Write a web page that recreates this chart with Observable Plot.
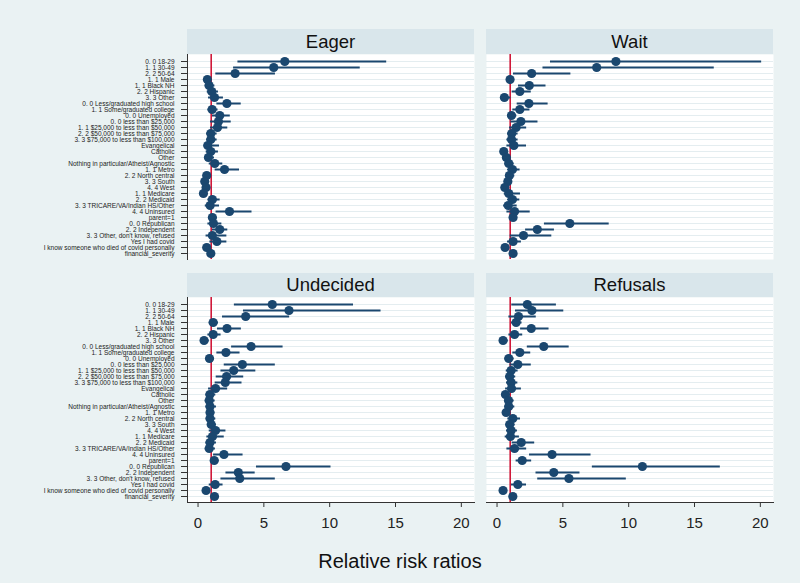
<!DOCTYPE html>
<html><head><meta charset="utf-8">
<script src="https://cdn.jsdelivr.net/npm/d3@7"></script>
<script src="https://cdn.jsdelivr.net/npm/@observablehq/plot@0.6"></script>
<style>
html,body{margin:0;padding:0;background:#EAF2F3;}
#wrap{position:relative;width:800px;height:583px;background:#EAF2F3;font-family:"Liberation Sans",Arial,sans-serif;overflow:hidden}
.hdr{position:absolute;background:#D9E6EB;color:#111;font-size:18.5px;display:flex;align-items:center;justify-content:center}
.pan{position:absolute;overflow:visible}
#xt{position:absolute;left:0;width:800px;text-align:center;font-size:20px;line-height:24px;top:549px;color:#111}
</style></head><body><div id="wrap"></div>
<script>
const labels = [
  "0. 0 18-29","1. 1 30-49","2. 2 50-64","1. 1 Male","1. 1 Black NH","2. 2 Hispanic","3. 3 Other",
  "0. 0 Less/graduated high school","1. 1 Some/graduated college","0. 0 Unemployed",
  "0. 0 less than $25,000","1. 1 $25,000 to less than $50,000","2. 2 $50,000 to less than $75,000",
  "3. 3 $75,000 to less than $100,000","Evangelical","Catholic","Other",
  "Nothing in particular/Atheist/Agnostic","1. 1 Metro","2. 2 North central","3. 3 South","4. 4 West",
  "1. 1 Medicare","2. 2 Medicaid","3. 3 TRICARE/VA/Indian HS/Other","4. 4 Uninsured","parent=1",
  "0. 0 Republican","2. 2 Independent","3. 3 Other, don't know, refused","Yes I had covid",
  "I know someone who died of covid personally","financial_severity"
];
const panelTitles = ["Eager","Wait","Undecided","Refusals"];

const eagerRRR = [6.59,5.75,2.82,0.71,0.84,1.04,1.25,2.19,1.07,1.65,1.55,1.48,0.97,0.97,0.74,0.97,0.79,1.27,2.01,0.66,0.51,0.61,0.41,1.09,0.92,2.39,1.09,1.17,1.65,1.09,1.43,0.66,0.97];
const eagerLo  = [3.03,2.70,1.35,0.52,0.55,0.70,0.80,1.43,0.75,1.10,0.95,0.95,0.65,0.65,0.46,0.62,0.50,0.85,1.30,0.45,0.35,0.40,0.25,0.75,0.55,1.37,0.80,0.75,1.10,0.61,0.90,0.45,0.88];
const eagerHi  = [14.33,12.32,5.88,0.97,1.28,1.55,1.93,3.28,1.52,2.45,2.52,2.26,1.45,1.45,1.63,1.55,1.25,1.88,3.15,0.98,0.75,0.92,0.68,1.68,1.63,4.10,1.45,1.81,2.26,2.19,2.19,0.95,1.07];

const waitRRR = [9.03,7.57,2.63,0.99,2.45,1.73,0.56,2.42,1.73,1.10,1.81,1.45,1.12,1.10,1.28,0.51,0.71,0.89,1.17,0.94,0.82,0.59,0.89,1.17,0.85,1.33,1.22,5.53,3.06,2.01,1.22,0.61,1.22];
const waitLo  = [4.06,3.49,1.25,0.80,1.63,1.15,0.30,1.53,1.20,0.80,1.05,0.95,0.80,0.75,0.75,0.32,0.48,0.60,0.80,0.65,0.58,0.38,0.55,0.80,0.50,0.75,0.95,3.60,2.17,1.00,0.80,0.40,1.10];
const waitHi  = [20.1,16.5,5.61,1.22,3.72,2.60,1.05,3.88,2.50,1.50,3.11,2.25,1.60,1.60,2.24,0.80,1.05,1.30,1.75,1.35,1.15,0.90,1.78,1.73,1.53,2.52,1.55,8.52,4.36,4.16,1.85,0.92,1.35];

const undecRRR = [5.64,6.91,3.62,1.15,2.20,1.15,0.46,4.03,2.12,0.87,3.37,2.71,2.17,2.07,1.33,0.90,0.85,0.91,0.91,0.91,1.00,1.33,1.10,0.91,0.85,1.97,1.23,6.68,3.06,3.17,1.30,0.61,1.25];
const undecLo  = [2.76,3.45,1.86,0.85,1.48,0.75,0.25,2.55,1.43,0.60,1.99,1.74,1.38,1.30,0.80,0.60,0.55,0.60,0.65,0.62,0.72,0.85,0.67,0.60,0.55,1.18,0.95,4.44,2.12,1.74,0.85,0.40,1.12];
const undecHi  = [11.81,13.9,6.96,1.55,3.29,1.75,0.85,6.46,3.19,1.25,5.87,4.39,3.47,3.34,2.25,1.35,1.30,1.40,1.28,1.35,1.40,2.12,1.99,1.40,1.32,3.42,1.60,10.1,4.34,5.87,1.90,0.93,1.38];

const refusRRR = [2.30,2.65,1.63,1.45,2.60,1.33,0.46,3.55,1.73,0.89,1.58,1.07,0.96,1.07,1.10,0.64,0.87,0.89,0.69,1.20,0.96,1.07,1.02,1.84,1.33,4.18,1.91,11.04,4.31,5.46,1.58,0.46,1.20];
const refusLo  = [1.12,1.40,0.90,1.10,1.79,0.90,0.25,2.30,1.20,0.60,0.98,0.70,0.65,0.72,0.65,0.40,0.58,0.58,0.48,0.82,0.68,0.72,0.62,1.15,0.75,2.47,1.45,7.24,2.96,3.09,1.10,0.28,1.08];
const refusHi  = [4.51,5.07,2.98,1.90,3.95,1.95,0.85,5.48,2.56,1.30,2.60,1.60,1.42,1.58,1.85,1.00,1.30,1.35,1.00,1.78,1.38,1.55,1.70,2.86,2.25,7.14,2.63,16.96,6.30,9.82,2.24,0.78,1.33];

const xTicks = [0,5,10,15,20];

const series = [
  {rrr:eagerRRR, lo:eagerLo, hi:eagerHi},
  {rrr:waitRRR, lo:waitLo, hi:waitHi},
  {rrr:undecRRR, lo:undecLo, hi:undecHi},
  {rrr:refusRRR, lo:refusLo, hi:refusHi}
];

const wrap = document.getElementById("wrap");
const navy = "#1A476F";
const PW = 287, PH = 205;

series.forEach((s, k) => {
  const col = k % 2, row = Math.floor(k / 2);
  const data = labels.map((l, i) => ({label: l, rrr: s.rrr[i], lo: s.lo[i], hi: s.hi[i]}));
  const showY = col === 0, showX = row === 1;
  const mL = showY ? 187 : 8, mR = 6, mT = 10, mB = showX ? 40 : 6;
  const svgLeft = showY ? 0 : 478;
  const svgTop = row === 0 ? 44 : 287;
  const marks = [
    Plot.frame({fill: "white", stroke: "none"}),
    Plot.gridY({stroke: "#E4EDF0", strokeOpacity: 1, strokeWidth: 1}),
    Plot.ruleX([1], {stroke: "#D0193A", strokeWidth: 1.6}),
    Plot.ruleY(data, {y: "label", x1: "lo", x2: "hi", stroke: navy, strokeWidth: 2}),
    Plot.dot(data, {x: "rrr", y: "label", r: 4.6, fill: navy, stroke: "none"})
  ];
  if (showY) {
    marks.push(Plot.axisY({tickSize: 6, tickPadding: 7, fontSize: "6.5px", label: null, stroke: "#333"}));
    marks.push(Plot.frame({anchor: "left", stroke: "#333"}));
  }
  if (showX) {
    marks.push(Plot.axisX({ticks: xTicks, tickSize: 5, tickPadding: 10, fontSize: "15px", label: null, stroke: "#333"}));
    marks.push(Plot.frame({anchor: "bottom", stroke: "#333"}));
  }
  const p = Plot.plot({
    width: mL + PW + mR,
    height: mT + PH + mB,
    marginLeft: mL, marginRight: mR, marginTop: mT, marginBottom: mB,
    style: {background: "transparent", fontFamily: "'Liberation Sans', Arial, sans-serif", color: "#222", overflow: "visible"},
    x: {domain: [-0.8, 21], ticks: xTicks, axis: null},
    y: {type: "point", domain: labels, padding: 0.5, axis: null},
    marks
  });
  p.classList.add("pan");
  p.style.left = svgLeft + "px";
  p.style.top = svgTop + "px";
  wrap.appendChild(p);

  const h = document.createElement("div");
  h.className = "hdr";
  h.textContent = panelTitles[k];
  h.style.left = (svgLeft + mL) + "px";
  h.style.width = PW + "px";
  h.style.top = (row === 0 ? 29 : 273) + "px";
  h.style.height = (row === 0 ? 25 : 24) + "px";
  wrap.appendChild(h);
});

const xt = document.createElement("div");
xt.id = "xt";
xt.textContent = "Relative risk ratios";
wrap.appendChild(xt);
</script>
</body></html>
